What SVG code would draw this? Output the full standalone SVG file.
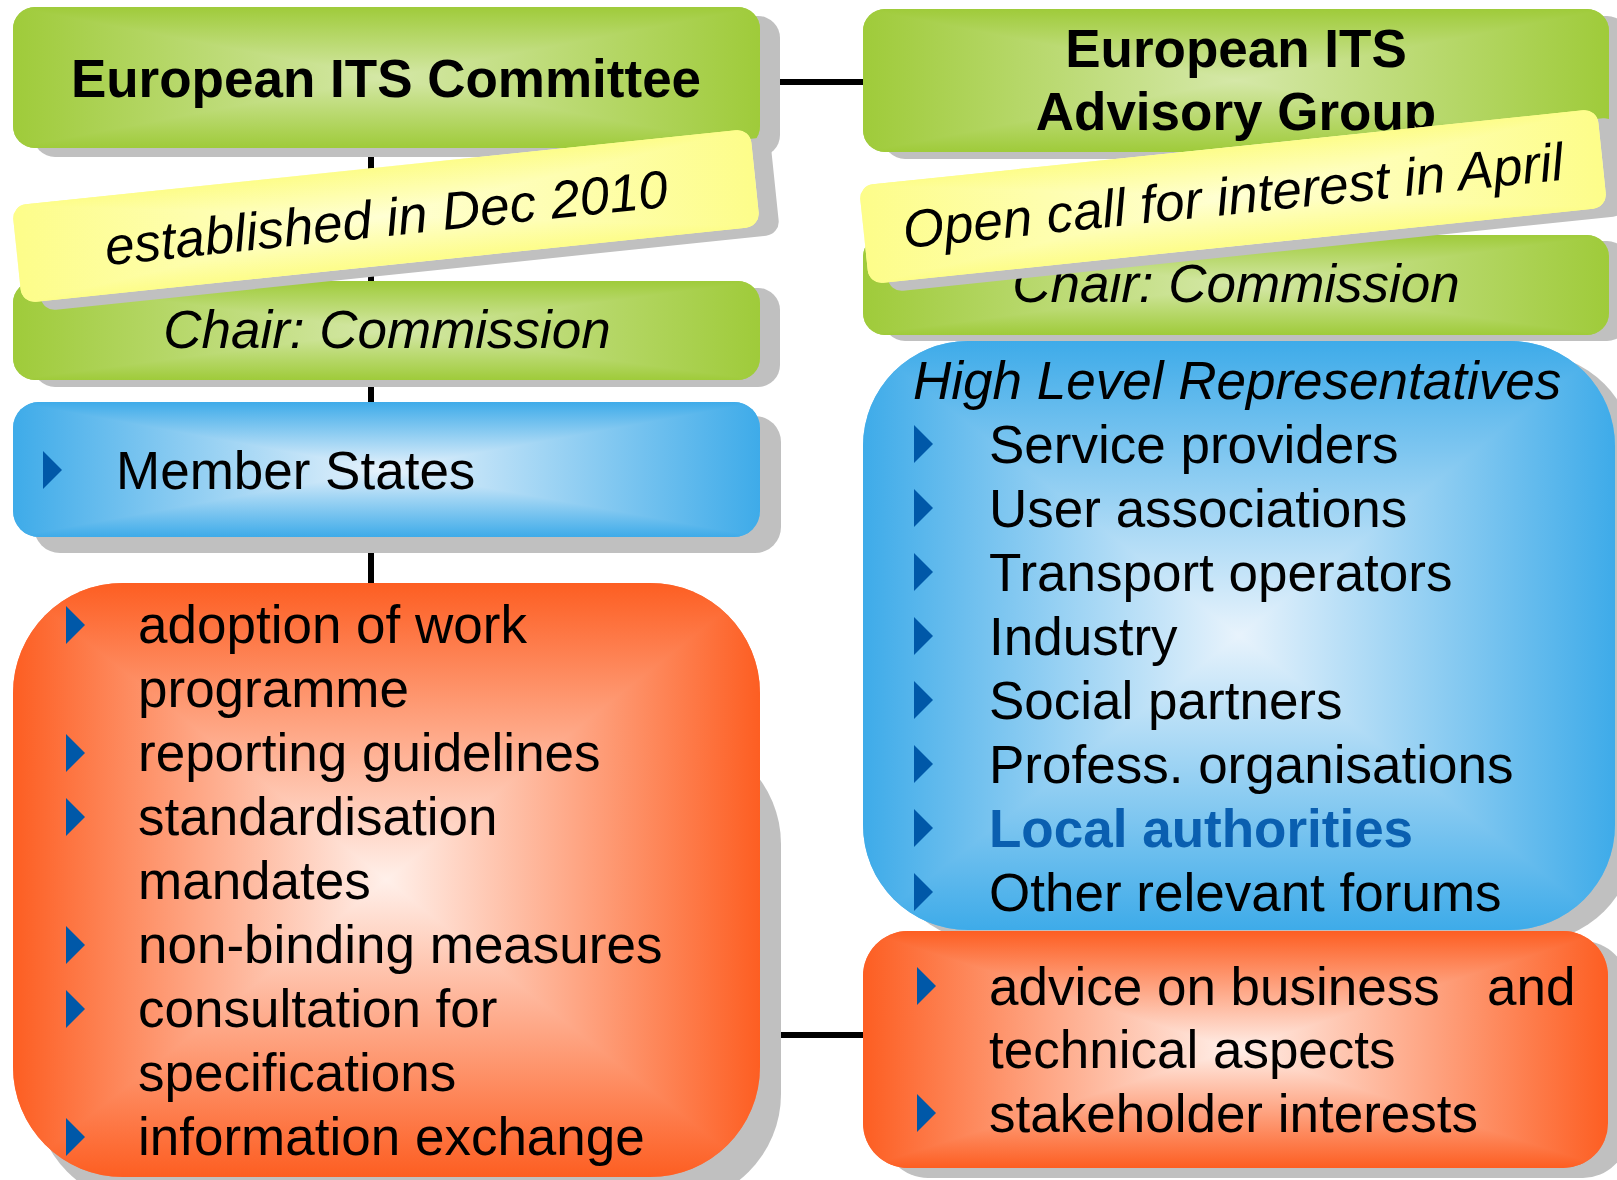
<svg xmlns="http://www.w3.org/2000/svg" width="1617" height="1180" viewBox="0 0 1617 1180">
<defs>
<style>
text{font-family:"Liberation Sans",Arial,sans-serif;font-size:53px;fill:#000}
.b{font-weight:bold}
.i{font-style:italic}
.c{text-anchor:middle}
.sh{fill:#c0c0c0}
.ln{stroke:#000;stroke-width:6;fill:none}
.bu{fill:#0058a8}
.fx{isolation:isolate}
.dk{mix-blend-mode:darken}
</style>
<linearGradient id="hG" x1="0" y1="0" x2="1" y2="0"><stop offset="0" stop-color="#9fcb3a"/><stop offset="0.5" stop-color="#d5e8a8"/><stop offset="1" stop-color="#9fcb3a"/></linearGradient>
<linearGradient id="vG" x1="0" y1="0" x2="0" y2="1"><stop offset="0" stop-color="#9fcb3a"/><stop offset="0.5" stop-color="#d5e8a8"/><stop offset="1" stop-color="#9fcb3a"/></linearGradient>
<linearGradient id="hY" x1="0" y1="0" x2="1" y2="0"><stop offset="0" stop-color="#fdfd8a"/><stop offset="0.5" stop-color="#ffffd4"/><stop offset="1" stop-color="#fdfd8a"/></linearGradient>
<linearGradient id="vY" x1="0" y1="0" x2="0" y2="1"><stop offset="0" stop-color="#fdfd8a"/><stop offset="0.5" stop-color="#ffffd4"/><stop offset="1" stop-color="#fdfd8a"/></linearGradient>
<linearGradient id="hB" x1="0" y1="0" x2="1" y2="0"><stop offset="0" stop-color="#3eabe9"/><stop offset="0.5" stop-color="#e8f3fc"/><stop offset="1" stop-color="#3eabe9"/></linearGradient>
<linearGradient id="vB" x1="0" y1="0" x2="0" y2="1"><stop offset="0" stop-color="#3eabe9"/><stop offset="0.5" stop-color="#e8f3fc"/><stop offset="1" stop-color="#3eabe9"/></linearGradient>
<linearGradient id="hO" x1="0" y1="0" x2="1" y2="0"><stop offset="0" stop-color="#fd5e22"/><stop offset="0.5" stop-color="#fff0ea"/><stop offset="1" stop-color="#fd5e22"/></linearGradient>
<linearGradient id="vO" x1="0" y1="0" x2="0" y2="1"><stop offset="0" stop-color="#fd5e22"/><stop offset="0.5" stop-color="#fff0ea"/><stop offset="1" stop-color="#fd5e22"/></linearGradient>
<path id="bul" d="M0,0 L19,19 L0,38 Z"/>
</defs>

<g id="connectors">
<line class="ln" x1="371" y1="140" x2="371" y2="590"/>
<line class="ln" x1="760" y1="82" x2="866" y2="82"/>
<line class="ln" x1="760" y1="1035" x2="866" y2="1035"/>
<line class="ln" x1="1222" y1="150" x2="1222" y2="345"/>
</g>

<g id="its-committee">
<rect class="sh" x="33" y="16" width="747" height="141" rx="22"/>
<g class="fx">
<rect x="13" y="7" width="747" height="141" rx="22" fill="url(#hG)"/>
<rect class="dk" x="13" y="7" width="747" height="141" rx="22" fill="url(#vG)"/>
</g>
<text class="b c" x="386" y="97">European ITS Committee</text>
</g>

<g id="chair-left">
<rect class="sh" x="33" y="288" width="747" height="99" rx="22"/>
<g class="fx">
<rect x="13" y="281" width="747" height="99" rx="22" fill="url(#hG)"/>
<rect class="dk" x="13" y="281" width="747" height="99" rx="22" fill="url(#vG)"/>
</g>
<text class="i c" x="387" y="348">Chair: Commission</text>
</g>

<g id="established">
<rect class="sh" transform="translate(406,224) rotate(-5.95)" x="-371" y="-49" width="742" height="98" rx="14"/>
<g transform="translate(386,216) rotate(-5.95)">
<g class="fx">
<rect x="-371" y="-49" width="742" height="98" rx="14" fill="url(#hY)"/>
<rect class="dk" x="-371" y="-49" width="742" height="98" rx="14" fill="url(#vY)"/>
</g>
<text class="i c" x="0" y="20">established in Dec 2010</text>
</g>
</g>

<g id="member-states">
<rect class="sh" x="34" y="416" width="747" height="137" rx="26"/>
<g class="fx">
<rect x="13" y="402" width="747" height="135" rx="26" fill="url(#hB)"/>
<rect class="dk" x="13" y="402" width="747" height="135" rx="26" fill="url(#vB)"/>
</g>
<use href="#bul" class="bu" x="43" y="451"/>
<text x="116" y="489">Member States</text>
</g>

<g id="committee-tasks">
<rect class="sh" x="35" y="734" width="746" height="470" rx="110"/>
<g class="fx">
<rect x="13" y="583" width="747" height="594" rx="110" fill="url(#hO)"/>
<rect class="dk" x="13" y="583" width="747" height="594" rx="110" fill="url(#vO)"/>
</g>
<use href="#bul" class="bu" x="66" y="606"/>
<use href="#bul" class="bu" x="66" y="734"/>
<use href="#bul" class="bu" x="66" y="798"/>
<use href="#bul" class="bu" x="66" y="926"/>
<use href="#bul" class="bu" x="66" y="990"/>
<use href="#bul" class="bu" x="66" y="1118"/>
<text x="138" y="643">adoption of work</text>
<text x="138" y="707">programme</text>
<text x="138" y="771">reporting guidelines</text>
<text x="138" y="835">standardisation</text>
<text x="138" y="899">mandates</text>
<text x="138" y="963">non-binding measures</text>
<text x="138" y="1027">consultation for</text>
<text x="138" y="1091">specifications</text>
<text x="138" y="1155">information exchange</text>
</g>

<g id="advisory-group">
<rect class="sh" x="883" y="16" width="746" height="143" rx="22"/>
<g class="fx">
<rect x="863" y="9" width="746" height="143" rx="22" fill="url(#hG)"/>
<rect class="dk" x="863" y="9" width="746" height="143" rx="22" fill="url(#vG)"/>
</g>
<text class="b c" x="1236" y="67">European ITS</text>
<text class="b c" x="1236" y="130">Advisory Group</text>
</g>

<g id="chair-right">
<rect class="sh" x="883" y="241" width="746" height="100" rx="22"/>
<g class="fx">
<rect x="863" y="235" width="746" height="100" rx="22" fill="url(#hG)"/>
<rect class="dk" x="863" y="235" width="746" height="100" rx="22" fill="url(#vG)"/>
</g>
<text class="i c" x="1236" y="302">Chair: Commission</text>
</g>

<g id="open-call">
<rect class="sh" transform="translate(1253,204) rotate(-5.95)" x="-371" y="-49" width="742" height="99" rx="14"/>
<g transform="translate(1233,196) rotate(-5.95)">
<g class="fx">
<rect x="-371" y="-49" width="742" height="99" rx="14" fill="url(#hY)"/>
<rect class="dk" x="-371" y="-49" width="742" height="99" rx="14" fill="url(#vY)"/>
</g>
<text class="i c" x="0" y="18">Open call for interest in April</text>
</g>
</g>

<g id="representatives">
<rect class="sh" x="883" y="353" width="752" height="589" rx="105"/>
<g class="fx">
<rect x="863" y="341" width="752" height="589" rx="105" fill="url(#hB)"/>
<rect class="dk" x="863" y="341" width="752" height="589" rx="105" fill="url(#vB)"/>
</g>
<text class="i" x="913" y="399">High Level Representatives</text>
<use href="#bul" class="bu" x="914" y="425"/>
<use href="#bul" class="bu" x="914" y="489"/>
<use href="#bul" class="bu" x="914" y="553"/>
<use href="#bul" class="bu" x="914" y="617"/>
<use href="#bul" class="bu" x="914" y="681"/>
<use href="#bul" class="bu" x="914" y="745"/>
<use href="#bul" class="bu" x="914" y="809"/>
<use href="#bul" class="bu" x="914" y="873"/>
<text x="989" y="463">Service providers</text>
<text x="989" y="527">User associations</text>
<text x="989" y="591">Transport operators</text>
<text x="989" y="655">Industry</text>
<text x="989" y="719">Social partners</text>
<text x="989" y="783">Profess. organisations</text>
<text class="b" x="989" y="847" style="fill:#0a5fb0">Local authorities</text>
<text x="989" y="911">Other relevant forums</text>
</g>

<g id="advisory-tasks">
<rect class="sh" x="883" y="941" width="745" height="237" rx="45"/>
<g class="fx">
<rect x="863" y="931" width="745" height="237" rx="45" fill="url(#hO)"/>
<rect class="dk" x="863" y="931" width="745" height="237" rx="45" fill="url(#vO)"/>
</g>
<use href="#bul" class="bu" x="917" y="967"/>
<use href="#bul" class="bu" x="917" y="1094"/>
<text x="989" y="1005">advice on business <tspan x="1487">and</tspan></text>
<text x="989" y="1068">technical aspects</text>
<text x="989" y="1132">stakeholder interests</text>
</g>
</svg>
